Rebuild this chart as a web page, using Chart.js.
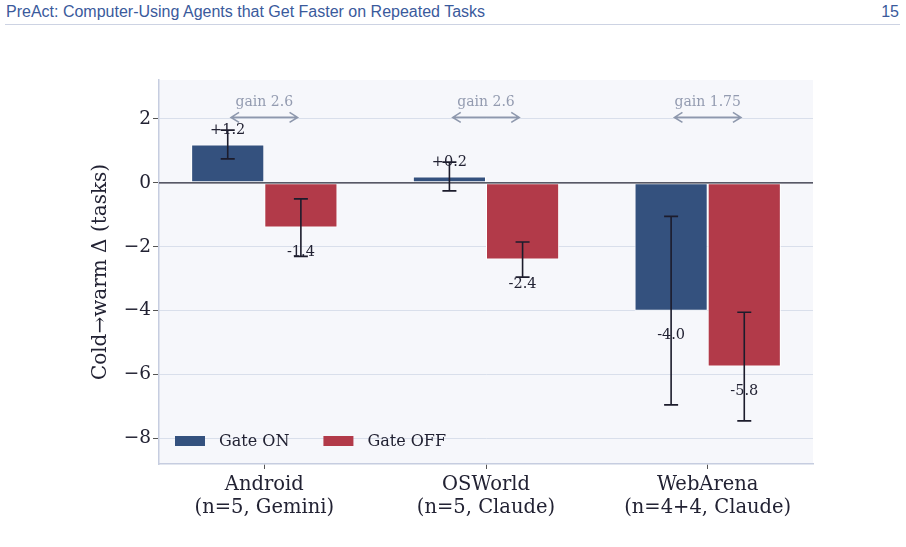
<!DOCTYPE html>
<html>
<head>
<meta charset="utf-8">
<script src="https://cdn.jsdelivr.net/npm/chart.js@4.4.1/dist/chart.umd.min.js"></script>
<style>
  body { margin: 0; background: #fff; }
  #wrap { position: relative; width: 906px; height: 547px; overflow: hidden; }
  #head { position: absolute; left: 6px; top: 3px; width: 893px; font: 16px "Liberation Sans", Arial, sans-serif; color: #3a5a9c; }
  #head .pg { position: absolute; right: 0; top: 0; }
  #rule { position: absolute; left: 5px; top: 24px; width: 895px; height: 1px; background: #cdd3e3; }
  canvas { position: absolute; left: 0; top: 0; }
</style>
</head>
<body>
<div id="wrap">
  <div id="head">PreAct: Computer-Using Agents that Get Faster on Repeated Tasks<span class="pg">15</span></div>
  <div id="rule"></div>
  <canvas id="c" width="906" height="547"></canvas>
</div>
<script>
const categories = [["Android", "(n=5, Gemini)"], ["OSWorld", "(n=5, Claude)"], ["WebArena", "(n=4+4, Claude)"]];
const gateOn = [1.2, 0.2, -4.0];
const gateOff = [-1.4, -2.4, -5.75];
const errOn = [0.45, 0.45, 2.95];
const errOff = [0.9, 0.55, 1.7];
const yTicks = [-8, -6, -4, -2, 0, 2];

const blue = "#34517e";
const red = "#b23a49";
const serif = "'DejaVu Serif', serif";

const fmt = (v) => (v > 0 ? "+" : "") + v.toFixed(1);

const extras = {
  id: "extras",
  beforeDraw(chart) {
    const a = chart.chartArea, ctx = chart.ctx;
    ctx.save();
    ctx.fillStyle = "#f6f7fb";
    ctx.fillRect(a.left, a.top, a.right - a.left, a.bottom - a.top);
    ctx.restore();
  },
  afterDatasetsDraw(chart) {
    const ctx = chart.ctx, a = chart.chartArea;
    const xs = chart.scales.x, ys = chart.scales.y;
    ctx.save();
    // zero line
    const y0 = ys.getPixelForValue(0);
    ctx.strokeStyle = "#2b2b3a";
    ctx.lineWidth = 1.3;
    ctx.beginPath();
    ctx.moveTo(a.left, y0);
    ctx.lineTo(a.right, y0);
    ctx.stroke();

    // error bars + value labels
    const errs = [errOn, errOff];
    chart.data.datasets.forEach((ds, di) => {
      const meta = chart.getDatasetMeta(di);
      meta.data.forEach((bar, i) => {
        const v = ds.data[i].y, e = errs[di][i];
        const yt = ys.getPixelForValue(v + e), yb = ys.getPixelForValue(v - e);
        ctx.strokeStyle = "#1c1c2c";
        ctx.lineWidth = 1.6;
        ctx.beginPath();
        ctx.moveTo(bar.x, yt); ctx.lineTo(bar.x, yb);
        ctx.moveTo(bar.x - 7, yt); ctx.lineTo(bar.x + 7, yt);
        ctx.moveTo(bar.x - 7, yb); ctx.lineTo(bar.x + 7, yb);
        ctx.stroke();
        ctx.fillStyle = "#222233";
        ctx.font = "14.5px " + serif;
        ctx.textAlign = "center";
        ctx.textBaseline = "middle";
        const ly = ys.getPixelForValue(v > 0 ? v + 0.45 : v - 0.78);
        ctx.fillText(fmt(v), bar.x, ly);
      });
    });

    // gain arrows
    ctx.strokeStyle = "#8e98ad";
    ctx.fillStyle = "#939bb0";
    ctx.lineWidth = 1.6;
    ctx.font = "14px " + serif;
    ctx.textAlign = "center";
    ctx.textBaseline = "middle";
    categories.forEach((c, i) => {
      const gain = parseFloat((gateOn[i] - gateOff[i]).toFixed(2));
      const x1 = xs.getPixelForValue(i - 0.15), x2 = xs.getPixelForValue(i + 0.15);
      const ya = ys.getPixelForValue(2.05);
      ctx.beginPath();
      ctx.moveTo(x1, ya); ctx.lineTo(x2, ya);
      ctx.moveTo(x1 + 8, ya - 5); ctx.lineTo(x1, ya); ctx.lineTo(x1 + 8, ya + 5);
      ctx.moveTo(x2 - 8, ya - 5); ctx.lineTo(x2, ya); ctx.lineTo(x2 - 8, ya + 5);
      ctx.stroke();
      ctx.fillText("gain " + gain, xs.getPixelForValue(i), ys.getPixelForValue(2.53));
    });

    // legend
    const ly = a.bottom - 23;
    let lx = a.left + 16;
    ctx.font = "16px " + serif;
    ctx.textAlign = "left";
    chart.data.datasets.forEach((ds) => {
      ctx.fillStyle = ds.backgroundColor;
      ctx.fillRect(lx, ly - 5, 30, 10);
      ctx.fillStyle = "#222233";
      ctx.fillText(ds.label, lx + 44, ly + 1);
      lx += ctx.measureText(ds.label).width + 44 + 34;
    });
    ctx.restore();
  }
};

new Chart(document.getElementById("c"), {
  type: "bar",
  data: {
    datasets: [
      { label: "Gate ON", data: gateOn.map((v, i) => ({ x: i, y: v })), backgroundColor: blue },
      { label: "Gate OFF", data: gateOff.map((v, i) => ({ x: i, y: v })), backgroundColor: red }
    ]
  },
  options: {
    responsive: false,
    animation: false,
    layout: { padding: { left: 0, top: 80, right: 93, bottom: 0 } },
    datasets: {
      bar: {
        categoryPercentage: 0.66,
        barPercentage: 1,
        borderColor: "#ffffff",
        borderWidth: 1,
        borderSkipped: false
      }
    },
    plugins: { legend: { display: false }, tooltip: { enabled: false } },
    scales: {
      x: {
        type: "linear",
        offset: false,
        min: -0.475,
        max: 2.475,
        afterBuildTicks: (s) => { s.ticks = categories.map((c, i) => ({ value: i })); },
        afterFit: (s) => { s.height = 83; },
        grid: { offset: false, drawOnChartArea: false, drawTicks: true, tickLength: 5, tickColor: "#555" },
        border: { color: "#c6cde0", width: 1.5 },
        ticks: {
          padding: 5,
          color: "#222233",
          font: { family: serif, size: 19.5, lineHeight: 1.16 },
          callback: (v) => categories[v]
        }
      },
      y: {
        min: -8.8,
        max: 3.22,
        afterBuildTicks: (s) => { s.ticks = yTicks.map((v) => ({ value: v })); },
        afterFit: (s) => { s.width = 159; },
        grid: { color: "#d9dfeb", lineWidth: 1, tickLength: 6, tickColor: "#555" },
        border: { color: "#c6cde0", width: 1.5 },
        ticks: {
          padding: 2,
          color: "#222233",
          font: { family: serif, size: 18.5 },
          callback: (v) => (v < 0 ? "\u2212" + Math.abs(v) : String(v))
        },
        title: {
          display: true,
          text: "Cold\u2192warm \u0394 (tasks)",
          color: "#222233",
          font: { family: serif, size: 20, lineHeight: 1.2 },
          padding: { top: 89, bottom: 0 }
        }
      }
    }
  },
  plugins: [extras]
});
</script>
</body>
</html>
